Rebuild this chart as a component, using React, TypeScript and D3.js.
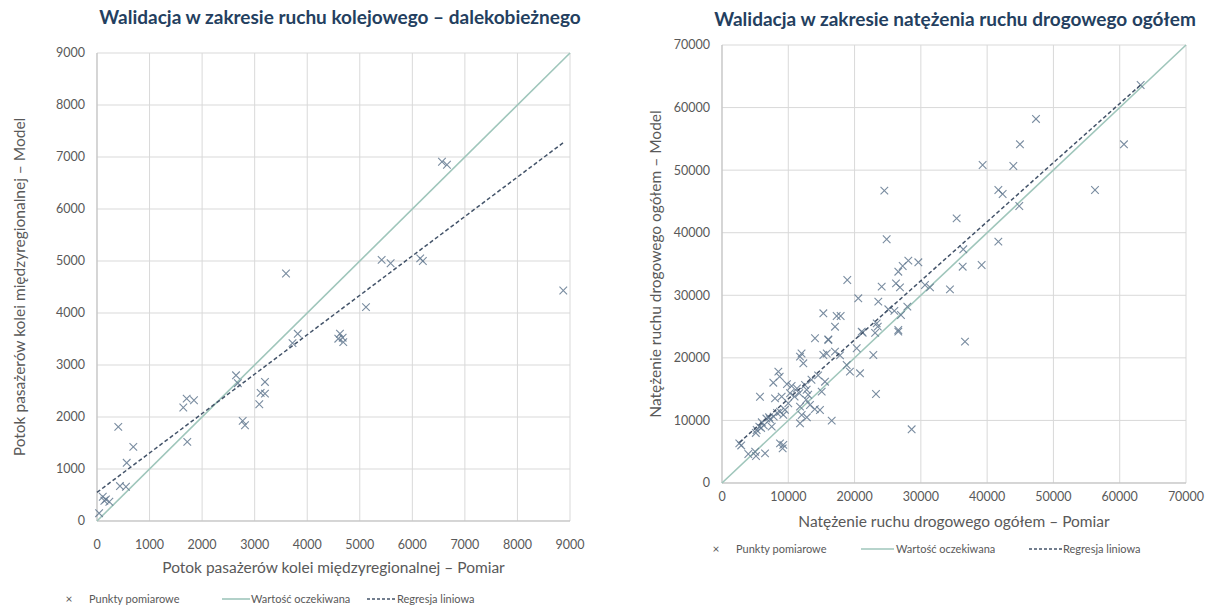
import React from "react";
import * as d3 from "d3";

// Rail panel: long-distance passenger flows, measured vs. modelled
const railMeasured = [40, 110, 140, 170, 235, 405, 437, 551, 565, 691, 1642, 1706, 1718, 1845, 2645, 2680, 2772, 2816, 3088, 3114, 3196, 3196, 3596, 3720, 3820, 4591, 4623, 4674, 4686, 5118, 5416, 5587, 6150, 6200, 6564, 6659, 8872];
const railModel = [150, 466, 390, 416, 370, 1810, 672, 658, 1119, 1426, 2182, 2354, 1522, 2322, 2802, 2650, 1925, 1842, 2245, 2463, 2450, 2674, 4759, 3420, 3600, 3506, 3602, 3525, 3441, 4112, 5022, 4957, 5050, 5000, 6908, 6851, 4433];
const railTicks = [0, 1000, 2000, 3000, 4000, 5000, 6000, 7000, 8000, 9000];
const railRegression = { intercept: 550, slope: 0.758 };

// Road panel: total road traffic volume, measured vs. modelled
const roadMeasured = [
  63160, 47370, 44950, 60640, 39320, 43950, 24490, 41690, 42340, 56270, 44850, 35400, 24840, 41690, 36400, 36310, 39170, 29620, 28110, 27260, 26600, 34390, 31380, 30620, 26250, 26850, 24090, 18900, 20560, 23580, 25090, 26000, 27960, 27000, 26600, 23340, 23500, 21070, 17050, 17300, 17900, 15290, 16040, 36660,
  2610, 2900, 3970, 5130, 5000, 6490, 5230, 5630, 5900, 5100, 5730, 7240, 7100, 7500, 7740, 8500, 8700, 8000, 9000, 8750, 9250, 9150, 8750, 9500, 9250, 10000, 10260, 10950, 11660, 11300, 11770, 12270, 12000, 11770, 12020, 11770, 12520, 12770, 13000, 12700, 13270, 14000, 14780, 12800, 14030, 16040, 15290, 15800, 17050, 17800, 15040, 15540, 16550, 18810, 19300, 20320, 20820, 22830, 23230, 26600, 28610, 21220, 23100,
  6000, 6700, 7800, 8300, 6300, 9800, 10500, 13500, 14500,
];
const roadModel = [
  63610, 58180, 54130, 54130, 50820, 50660, 46720, 46830, 46190, 46830, 44270, 42300, 38950, 38570, 37350, 34570, 34840, 35270, 35530, 34680, 33770, 30950, 31270, 31640, 31910, 31270, 31380, 32440, 29520, 28980, 27760, 27500, 28180, 26850, 24450, 25520, 25000, 24190, 24980, 26690, 26690, 27120, 22960, 22590,
  6340, 6000, 4630, 4310, 5000, 4740, 8470, 9000, 8800, 8000, 13790, 10180, 10500, 9000, 16030, 17790, 17000, 13530, 13800, 6340, 6100, 5540, 11390, 11700, 10900, 12740, 14340, 13800, 14340, 15100, 20190, 19130, 20700, 12200, 10870, 9540, 15660, 14900, 14100, 13300, 12470, 11800, 11670, 10500, 23130, 22860, 20460, 20700, 20990, 20400, 14600, 16190, 9960, 18860, 17800, 21530, 17530, 20460, 14220, 24190, 8580, 24020, 24000,
  9700, 10300, 10600, 11200, 9200, 15800, 15500, 16500, 17200,
];
const roadTicks = [0, 10000, 20000, 30000, 40000, 50000, 60000, 70000];
const roadRegression = { intercept: 4000, slope: 0.944 };

const legendLabels = ["Punkty pomiarowe", "Wartość oczekiwana", "Regresja liniowa"];

const FONT = "Lato, 'Open Sans', sans-serif";
const TEXT_GREY = "#595959";
const GRID = "#d9d9d9";
const IDEAL = "#9fc6bb";
const REG = "#44546a";
const MARK = "#62788f";
const TITLE = "#243f60";

type PanelProps = {
  title: string;
  titleX: number;
  titleY: number;
  xs: number[];
  ys: number[];
  ticks: number[];
  reg: { intercept: number; slope: number };
  xRange: [number, number];
  yRange: [number, number];
  xLabel: string;
  yLabel: string;
  yLabelX: number;
  xTickY: number;
  xLabelY: number;
  legendY: number;
  legendPos: number[]; // marker, text1, line start, line end, text2, dash start, dash end, text3
};

function Cross({ x, y, r = 3.8 }: { x: number; y: number; r?: number }) {
  return (
    <path
      d={`M${x - r},${y - r}L${x + r},${y + r}M${x - r},${y + r}L${x + r},${y - r}`}
      stroke={MARK}
      strokeWidth={1.1}
      strokeOpacity={0.85}
      fill="none"
    />
  );
}

function Panel(p: PanelProps) {
  const max = p.ticks[p.ticks.length - 1];
  const x = d3.scaleLinear().domain([0, max]).range(p.xRange);
  const y = d3.scaleLinear().domain([0, max]).range(p.yRange);
  const line = d3.line<[number, number]>().x((d) => x(d[0])).y((d) => y(d[1]));
  const [xMin, xMax] = d3.extent(p.xs) as [number, number];
  const regStart = xMin < max * 0.02 ? 0 : xMin;
  const regPts: [number, number][] = [
    [regStart, p.reg.intercept + p.reg.slope * regStart],
    [xMax, p.reg.intercept + p.reg.slope * xMax],
  ];
  const lp = p.legendPos;
  return (
    <g>
      <text x={p.titleX} y={p.titleY} textAnchor="middle" fontFamily={FONT} fontWeight={700} fontSize={19} fill={TITLE}>
        {p.title}
      </text>
      {p.ticks.map((t) => (
        <g key={"g" + t}>
          <line x1={x(t)} x2={x(t)} y1={y(0)} y2={y(max)} stroke={GRID} strokeWidth={1} />
          <line x1={x(0)} x2={x(max)} y1={y(t)} y2={y(t)} stroke={GRID} strokeWidth={1} />
        </g>
      ))}
      <line x1={x(0)} x2={x(max)} y1={y(0)} y2={y(0)} stroke="#bfbfbf" strokeWidth={1} />
      <line x1={x(0)} x2={x(0)} y1={y(0)} y2={y(max)} stroke="#bfbfbf" strokeWidth={1} />
      {p.ticks.map((t) => (
        <g key={"t" + t} fontFamily={FONT} fontSize={12.5} fill={TEXT_GREY}>
          <text x={x(0) - 12} y={y(t)} dy="0.35em" textAnchor="end">{t}</text>
          <text x={x(t)} y={p.xTickY} dy="0.35em" textAnchor="middle">{t}</text>
        </g>
      ))}
      <text x={(p.xRange[0] + p.xRange[1]) / 2} y={p.xLabelY} dy="0.35em" textAnchor="middle" fontFamily={FONT} fontSize={15.5} fill={TEXT_GREY}>
        {p.xLabel}
      </text>
      <text
        transform={`translate(${p.yLabelX},${(p.yRange[0] + p.yRange[1]) / 2}) rotate(-90)`}
        dy="0.35em"
        textAnchor="middle"
        fontFamily={FONT}
        fontSize={15.5}
        fill={TEXT_GREY}
      >
        {p.yLabel}
      </text>
      <path d={line([[0, 0], [max, max]]) || ""} stroke={IDEAL} strokeWidth={1.6} fill="none" />
      {p.xs.map((v, i) => (
        <Cross key={"p" + i} x={x(v)} y={y(p.ys[i])} />
      ))}
      <path d={line(regPts) || ""} stroke={REG} strokeWidth={1.5} strokeDasharray="4,2.5" fill="none" />
      <g fontFamily={FONT} fontSize={11} fill={TEXT_GREY}>
        <text x={lp[0]} y={p.legendY} dy="0.35em" textAnchor="middle" fontSize={12}>×</text>
        <text x={lp[1]} y={p.legendY} dy="0.35em">{legendLabels[0]}</text>
        <line x1={lp[2]} x2={lp[3]} y1={p.legendY} y2={p.legendY} stroke={IDEAL} strokeWidth={1.6} />
        <text x={lp[4]} y={p.legendY} dy="0.35em">{legendLabels[1]}</text>
        <line x1={lp[5]} x2={lp[6]} y1={p.legendY} y2={p.legendY} stroke={REG} strokeWidth={1.3} strokeDasharray="3,2" />
        <text x={lp[7]} y={p.legendY} dy="0.35em">{legendLabels[2]}</text>
      </g>
    </g>
  );
}

export default function App() {
  return (
    <svg width={1211} height={608} style={{ position: "absolute", left: 0, top: 0, background: "#fff" }}>
      <rect width={1211} height={608} fill="#fff" />
      <Panel
        title="Walidacja w zakresie ruchu kolejowego – dalekobieżnego"
        titleX={340}
        titleY={24}
        xs={railMeasured}
        ys={railModel}
        ticks={railTicks}
        reg={railRegression}
        xRange={[97, 570]}
        yRange={[521, 53]}
        xLabel="Potok pasażerów kolei międzyregionalnej – Pomiar"
        yLabel="Potok pasażerów kolei międzyregionalnej – Model"
        yLabelX={20}
        xTickY={545}
        xLabelY={568}
        legendY={599}
        legendPos={[69, 89, 222, 250, 251, 367, 396, 397]}
      />
      <Panel
        title="Walidacja w zakresie natężenia ruchu drogowego ogółem"
        titleX={955}
        titleY={26}
        xs={roadMeasured}
        ys={roadModel}
        ticks={roadTicks}
        reg={roadRegression}
        xRange={[722, 1186]}
        yRange={[483, 45]}
        xLabel="Natężenie ruchu drogowego ogółem – Pomiar"
        yLabel="Natężenie ruchu drogowego ogółem – Model"
        yLabelX={656}
        xTickY={497}
        xLabelY={522}
        legendY={549}
        legendPos={[716, 736, 861, 894, 896, 1029, 1062, 1063]}
      />
    </svg>
  );
}
